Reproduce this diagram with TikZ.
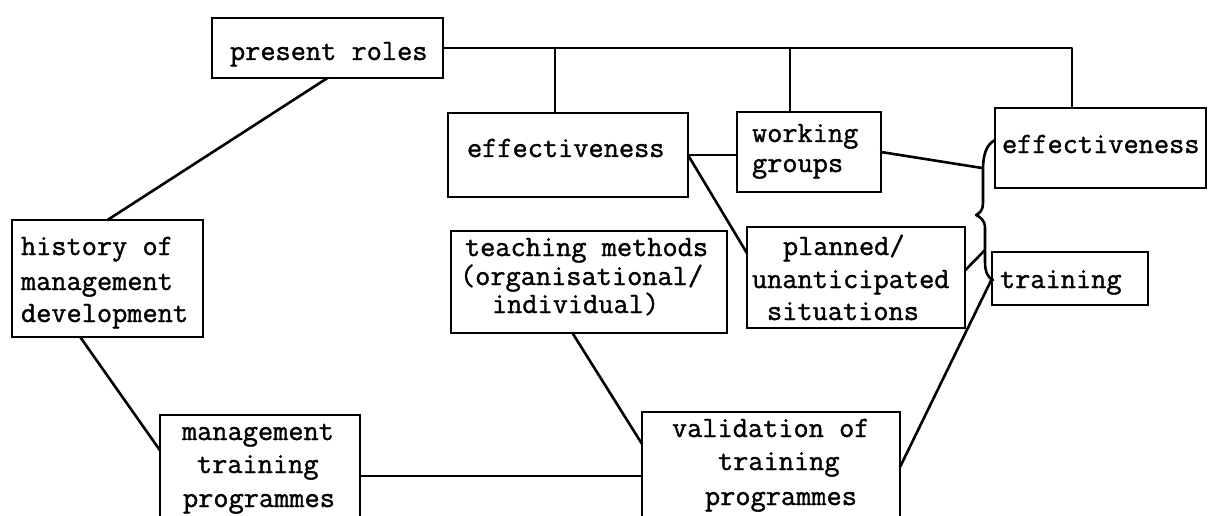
\documentclass[tikz,border=0pt]{standalone}
\usepackage{fontspec}
\newfontfamily\twfont[FakeBold=1.2]{Latin Modern Mono}
\usetikzlibrary{calc}
\begin{document}
\begin{tikzpicture}[x=1pt,y=-1pt,
  box/.style={draw=black, line width=2.8pt, rectangle, inner sep=0pt, outer sep=0pt},
  conn/.style={draw=black, line width=2.6pt, line cap=round, line join=round},
  lbl/.style={anchor=base west, inner sep=0pt, outer sep=0pt, font=\fontsize{29.5}{32}\selectfont\twfont}]
\fill[white] (0,0) rectangle (1209,516);
\useasboundingbox (0,0) rectangle (1209,516);
\clip (0,0) rectangle (1209,516);
% boxes
\node[box, minimum width=231pt, minimum height=60pt] (pr) at (327.5,48) {};
\node[box, minimum width=240pt, minimum height=84pt] (eff1) at (568,155) {};
\node[box, minimum width=144pt, minimum height=80pt] (wg) at (809,152) {};
\node[box, minimum width=211pt, minimum height=80pt] (eff2) at (1100.5,148) {};
\node[box, minimum width=191pt, minimum height=117pt] (hist) at (107.5,278.5) {};
\node[box, minimum width=276pt, minimum height=102pt] (teach) at (589,282) {};
\node[box, minimum width=218pt, minimum height=101pt] (plan) at (856,277.5) {};
\node[box, minimum width=156pt, minimum height=53pt] (train) at (1070,278.5) {};
\node[box, minimum width=200pt, minimum height=122pt] (mtp) at (260,476) {};
\node[box, minimum width=258pt, minimum height=128pt] (val) at (771,476) {};
% texts
\node[lbl] (prt) at (230,60) {present roles};
\node[lbl] (eff1t) at (467,157) {effectiveness};
\node[lbl] (wgt1) at (752,142) {working};
\node[lbl] (wgt2) at (752,172) {groups};
\node[lbl] (eff2t) at (1002,153) {effectiveness};
\node[lbl] (histt1) at (21,255) {history of};
\node[lbl] (histt2) at (21,290) {management};
\node[lbl] (histt3) at (21,322) {development};
\node[lbl] (teacht1) at (465,256) {teaching methods};
\node[lbl] (teacht2) at (460,285) {(organisational/};
\node[lbl] (teacht3) at (492,313) {individual)};
\node[lbl] (plant1) at (783,255) {planned/};
\node[lbl] (plant2) at (752,288) {unanticipated};
\node[lbl] (plant3) at (767,320) {situations};
\node[lbl] (traint) at (1000,288) {training};
\node[lbl] (mtpt1) at (182,440) {management};
\node[lbl] (mtpt2) at (197,473) {training};
\node[lbl] (mtpt3) at (183,507) {programmes};
\node[lbl] (valt1) at (672,437) {validation of};
\node[lbl] (valt2) at (718,470) {training};
\node[lbl] (valt3) at (705,505) {programmes};
% junction coordinates
\coordinate (j1) at (555,48);
\coordinate (j2) at (790,48);
\coordinate (j3) at (1072,48);
\coordinate (bw) at (982,168);
\coordinate (bp) at (985,250);
% connectors
\draw[conn] (pr.east) -- (j3) -- (j3 |- eff2.north);
\draw[conn] (j1) -- (j1 |- eff1.north);
\draw[conn] (j2) -- (j2 |- wg.north);
\draw[conn] (pr.south) -- (hist.north);
\draw[conn] ($(hist.south west)!0.357!(hist.south east)$) -- ($(mtp.north west)!0.29!(mtp.south west)$);
\draw[conn] (mtp.east) -- (val.west);
\draw[conn] ($(teach.south west)!0.44!(teach.south east)$) -- ($(val.north west)!0.25!(val.south west)$);
\draw[conn] ($(val.north east)!0.43!(val.south east)$) -- (train.west);
\draw[conn] (eff1.east) -- (eff1.east -| wg.west);
\draw[conn] (eff1.east) -- ($(plan.north west)!0.26!(plan.south west)$);
\draw[conn] (wg.east) -- (bw);
\draw[conn] ($(plan.north east)!0.43!(plan.south east)$) -- (bp);
% brace
\draw[conn] (995,140) .. controls (986,145) and (983,155) .. (983,170) -- (983,203)
  .. controls (983,210) and (980,213) .. (976,215)
  .. controls (980,217) and (985,220) .. (985,228) -- (985,262)
  .. controls (985,272) and (988,278) .. (993,280);
\end{tikzpicture}
\end{document}
